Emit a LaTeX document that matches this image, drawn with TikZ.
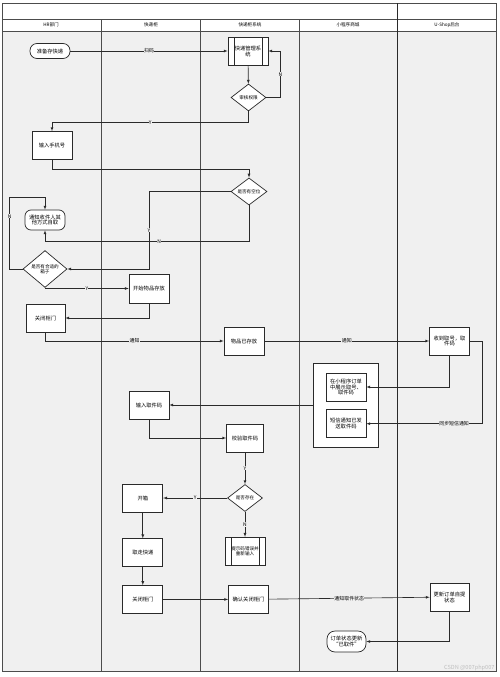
\documentclass[tikz,border=0pt]{standalone}
\usepackage{fontspec}
\setmainfont{Noto Sans CJK SC}
\usepackage{tikz}
\usetikzlibrary{positioning,shapes.geometric}
\definecolor{lanebg}{HTML}{F0F0F0}
\definecolor{ln}{HTML}{2A2A2A}

\begin{document}
\begin{tikzpicture}[x=0.05cm,y=-0.05cm,>=latex,font=\fontsize{7.5}{8.5}\selectfont,
box/.style={draw=ln,line width=1pt,fill=white,minimum width=2cm,minimum height=1.4cm,align=center,inner sep=1pt},
pbox/.style={box,path picture={\draw[ln,line width=0.8pt] ([xshift=0.3cm]path picture bounding box.north west) -- ([xshift=0.3cm]path picture bounding box.south west) ([xshift=-0.3cm]path picture bounding box.north east) -- ([xshift=-0.3cm]path picture bounding box.south east);}},
term/.style={box,rounded corners=0.35cm,minimum height=0.75cm},
dec/.style={diamond,draw=ln,line width=1pt,fill=white,align=center,inner sep=0pt,minimum width=1.75cm,minimum height=1.35cm,font=\fontsize{6.5}{7.5}\selectfont},
lbl/.style={fill=lanebg,inner sep=0.5pt,font=\fontsize{7}{7.5}\selectfont},
con/.style={->,draw=ln,line width=0.9pt}]
\useasboundingbox (0,0) rectangle (500,677);
\fill[white] (0,0) rectangle (500,677); \fill[lanebg] (2,31) rectangle (496,671);
\draw[gray!60!black,line width=1pt] (2,3) rectangle (496,671) (2,19) -- (496,19) (2,31) -- (496,31);
\foreach \x in {101,200,299} \draw[gray!60!black,line width=1pt] (\x,19) -- (\x,671);
\draw[ln,line width=1.2pt] (397,3) -- (397,671);
\foreach \x/\t in {51/HR部门,151/快递柜,250/快递柜系统,348/小程序商城,447/U-Shop后台} \node[font=\fontsize{6.5}{7}\selectfont] (h\x) at (\x,25) {\t};

\node[term] (s1) at (50,51) {准备存快递}; \node[pbox] (p1) at (248,51) {快递管理系\\统};
\node[dec] (d1) at (248.5,97.5) {审核权限}; \node[box] (b2) at (52,145.5) {输入手机号};
\node[dec,minimum width=1.8cm] (d2) at (249,191.5) {是否有空位};
\node[term,minimum height=1cm,rounded corners=0.3cm] (r1) at (45,220) {通知收件人其\\他方式自取};
\node[dec,minimum width=2.2cm,minimum height=1.7cm] (d3) at (45,269) {是否有合适的\\箱子};
\node[box,minimum height=1.45cm] (b3) at (149,288.5) {开始物品存放}; \node[box,minimum width=1.95cm] (b4) at (45.5,318) {关闭柜门};
\node[box] (b5) at (244,341) {物品已存放}; \node[box] (b6) at (449.5,341) {收到取号，取\\件码};
\node[box,minimum width=3.25cm,minimum height=4.2cm] (g1) at (345.5,405) {};
\node[box] (b7) at (346,387) {在小程序订单\\中展示取号、\\取件码}; \node[box,below=0.4cm of b7] (b8) {短信通知已发\\送取件码};
\node[box] (b9) at (149,405) {输入取件码}; \node[box,minimum width=1.85cm] (b10) at (245,438) {校验取件码};
\node[dec] (d4) at (245,498) {是否存在}; \node[box,left=3.2cm of d4] (b11) {开箱};
\node[pbox,below=1.25cm of d4,font=\fontsize{6.5}{7.5}\selectfont] (p2) {提示码错误并\\重新输入};
\node[box,below=1.3cm of b11] (b12) {取走快递}; \node[box,below=0.9cm of b12] (b13) {关闭柜门};
\node[box,right=3.25cm of b13] (b14) {确认关闭柜门}; \node[box,minimum width=1.95cm] (b15) at (449.5,597) {更新订单自提\\状态};
\node[term,minimum height=1.05cm,rounded corners=0.4cm,minimum width=1.95cm] (e1) at (346.5,641.5) {订单状态更新\\“已取件”};

\draw[con] (s1) -- node[lbl]{扫码} (p1); \draw[con] (p1) -- (d1);
\draw[con] (d1.east) -- ++(14,0) |- node[lbl,pos=0.25]{N} (p1.east);
\draw[con] (d1.south) -- ++(0,11) -| node[lbl,pos=0.25]{Y} (b2.north);
\draw[con] (b2.south) -- ++(0,9) -| (d2.north);
\draw[con] (d2.west) -| node[lbl,pos=0.75]{Y} (d3.east -| b3.north) -- (d3.east);
\draw[con] (d2.south) -- ++(0,36) -| node[lbl,pos=0.22]{N} (r1.south);
\draw[con] (d3.west) -- ++(-13,0) |- node[lbl,pos=0.37]{N} ([yshift=0.6cm]r1.north) -- (r1.north);
\draw[con] (d3.south) |- node[lbl,pos=0.75]{Y} (b3.west); \draw[con] (b3.south) |- (b4.east);
\draw[con] (b4.south) |- node[lbl,pos=0.75]{通知} (b5.west); \draw[con] (b5) -- node[lbl]{通知} (b6);
\draw[con] (b6.south) |- (b7.east);
\draw[con] (b6.east) -- ++(12,0) |- node[lbl,pos=0.62]{同步短信通知} (b8.east);
\draw[con] (g1.west) -- (b9.east); \draw[con] (b9.south) |- (b10.west);
\draw[con] (b10) -- node[lbl]{Y} (d4); \draw[con] (d4) -- node[lbl]{Y} (b11); \draw[con] (d4) -- node[lbl]{N} (p2);
\draw[con] (b11) -- (b12); \draw[con] (b12) -- (b13); \draw[con] (b13) -- (b14);
\draw[con] (b14) -- node[lbl]{通知取件状态} (b15); \draw[con] (b15.south) |- (e1.east);
\node[text=gray!50,font=\fontsize{8}{9}\selectfont,anchor=east] (wm) at (497,668) {CSDN @007php007};
\end{tikzpicture}
\end{document}
